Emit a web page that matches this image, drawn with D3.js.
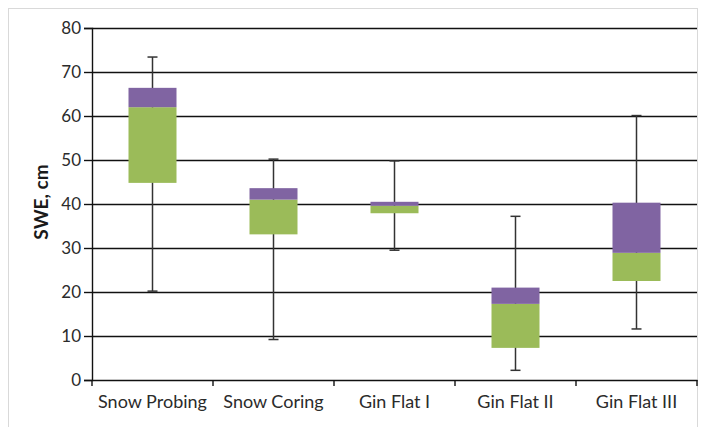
<!DOCTYPE html>
<html><head><meta charset="utf-8">
<script src="https://cdn.jsdelivr.net/npm/d3@7"></script>
<style>body{margin:0;background:#fff}svg{display:block}</style>
</head><body>
<script>
const categories = ["Snow Probing","Snow Coring","Gin Flat I","Gin Flat II","Gin Flat III"];
const whiskerLow  = [20.2, 9.2, 29.5, 2.2, 11.6];
const boxLow      = [44.8, 33.1, 37.9, 7.3, 22.5];
const median      = [62.0, 41.0, 39.6, 17.3, 28.9];
const boxHigh     = [66.4, 43.6, 40.5, 21.0, 40.3];
const whiskerHigh = [73.4, 50.2, 49.8, 37.2, 60.1];
const yTicks = [0,10,20,30,40,50,60,70,80];

const W=706,H=427;
const svg=d3.select("body").append("svg").attr("width",W).attr("height",H);
svg.append("rect").attr("x",8.5).attr("y",8.5).attr("width",689).attr("height",430)
  .attr("fill","#fff").attr("stroke","#d9d9d9");

const L=92,R=697,T=28,B=380;
const x=d3.scaleBand().domain(categories).range([L,R]);
const y=d3.scaleLinear().domain([0,80]).range([B,T]);
const font="Lato, 'Open Sans', sans-serif";

// gridlines
svg.append("g").selectAll("line").data(yTicks.slice(1)).join("line")
  .attr("x1",L).attr("x2",R).attr("y1",d=>Math.round(y(d))+0.5).attr("y2",d=>Math.round(y(d))+0.5)
  .attr("stroke","#111").attr("stroke-width",1.4);

// y axis
const ya=svg.append("g").attr("transform",`translate(${L},0)`)
  .call(d3.axisLeft(y).tickValues(yTicks).tickSize(8).tickPadding(3));
ya.select(".domain").attr("stroke","#111").attr("stroke-width",1.4);
ya.selectAll(".tick line").attr("stroke","#111").attr("stroke-width",1.4);
ya.selectAll("text").attr("font-family",font).attr("font-size",17).attr("fill","#2b2b2b");

// x axis
const xa=svg.append("g").attr("transform",`translate(0,${B})`)
  .call(d3.axisBottom(x).tickSize(0).tickPadding(15));
xa.select(".domain").attr("stroke","#111").attr("stroke-width",1.4);
xa.selectAll("text").attr("font-family",font).attr("font-size",18).attr("fill","#2b2b2b");
// category boundary ticks
const bounds=categories.map(c=>x(c)).concat([R]);
svg.append("g").selectAll("line").data(bounds).join("line")
  .attr("x1",d=>d).attr("x2",d=>d).attr("y1",B).attr("y2",B+6)
  .attr("stroke","#111").attr("stroke-width",1.4);

// y label
svg.append("text").attr("transform","translate(48,202) rotate(-90)")
  .attr("text-anchor","middle").attr("font-family",font).attr("font-weight","bold")
  .attr("font-size",19).attr("fill","#1a1a1a").text("SWE, cm");

const bw=48, cap=10;
const g=svg.append("g");
categories.forEach((c,i)=>{
  const cx=x(c)+x.bandwidth()/2;
  // whiskers
  g.append("line").attr("x1",cx).attr("x2",cx).attr("y1",y(whiskerHigh[i])).attr("y2",y(whiskerLow[i]))
    .attr("stroke","#333").attr("stroke-width",1.5);
  [whiskerHigh[i],whiskerLow[i]].forEach(v=>{
    g.append("line").attr("x1",cx-cap/2).attr("x2",cx+cap/2).attr("y1",y(v)).attr("y2",y(v))
      .attr("stroke","#333").attr("stroke-width",1.5);
  });
  g.append("rect").attr("x",cx-bw/2).attr("width",bw)
    .attr("y",y(median[i])).attr("height",y(boxLow[i])-y(median[i])).attr("fill","#9bbb59");
  g.append("rect").attr("x",cx-bw/2).attr("width",bw)
    .attr("y",y(boxHigh[i])).attr("height",y(median[i])-y(boxHigh[i])).attr("fill","#8064a2");
});
</script>
</body></html>
